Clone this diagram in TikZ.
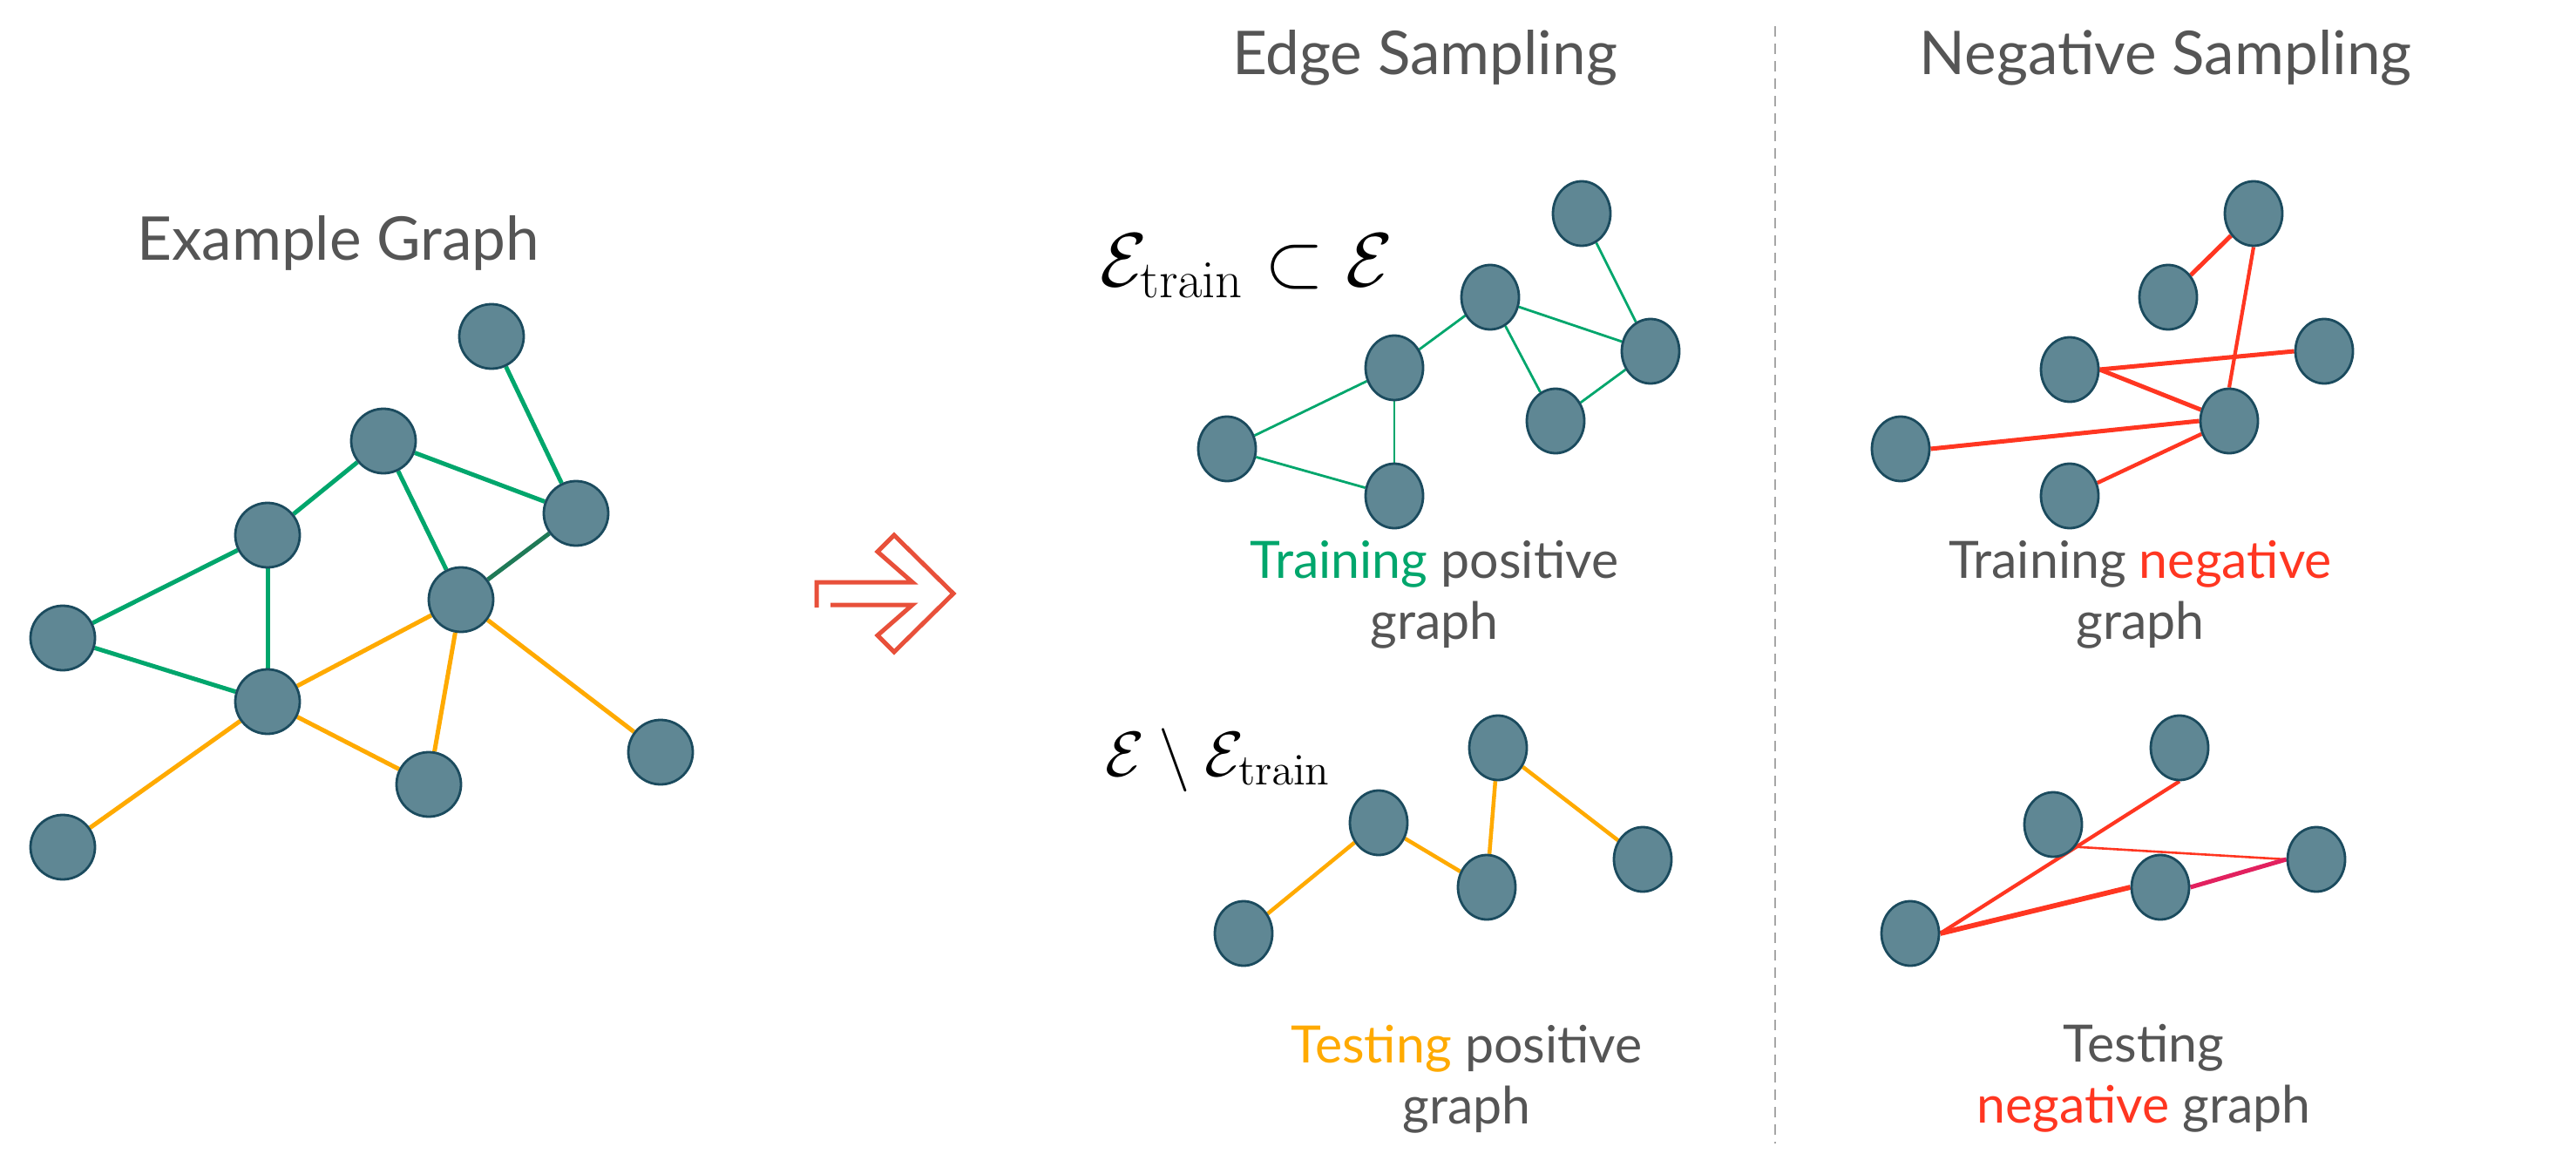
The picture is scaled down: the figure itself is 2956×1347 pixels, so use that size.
\documentclass[tikz,border=0pt]{standalone}
\usepackage[no-math]{fontspec}
\setmainfont{Lato}
\usetikzlibrary{shapes.geometric,backgrounds}
\definecolor{nodefill}{RGB}{95,135,148}
\definecolor{nodeborder}{RGB}{27,75,94}
\definecolor{tgreen}{RGB}{0,166,108}
\definecolor{dgreen}{RGB}{31,122,87}
\definecolor{torange}{RGB}{255,170,0}
\definecolor{tred}{RGB}{255,54,33}
\definecolor{tmagenta}{RGB}{226,33,95}
\definecolor{tgray}{RGB}{85,85,85}
\definecolor{arrowcol}{RGB}{232,80,58}
\definecolor{dashcol}{RGB}{166,166,166}
\begin{document}
\begin{tikzpicture}[x=0.1mm,y=-0.1mm,
  bignode/.style={circle, fill=nodefill, draw=nodeborder, line width=0.28mm, minimum size=7.4mm, inner sep=0pt},
  smallnode/.style={ellipse, fill=nodefill, draw=nodeborder, line width=0.28mm, minimum width=6.6mm, minimum height=7.4mm, inner sep=0pt},
  head/.style={text=tgray, font=\fontsize{19.7}{24}\selectfont},
  lbl/.style={text=tgray, align=center, font=\fontsize{16.8}{19.9}\selectfont},
  mathlbl/.style={inner sep=0pt},
  gedge/.style={tgreen, line width=0.5mm},
  oedge/.style={torange, line width=0.5mm},
  thinedge/.style={tgreen, line width=0.28mm},
  redge/.style={tred, line width=0.5mm}]
\useasboundingbox (0,0) rectangle (2956,1347);

% titles
\node[head] (t1) at (388,279) {Example Graph};
\node[head] (t2) at (1635,66) {Edge Sampling};
\node[head] (t3) at (2485,66) {Negative Sampling};

% example graph
\node[bignode] (gA) at (564,386) {};
\node[bignode] (gB) at (440,506) {};
\node[bignode] (gC) at (661,589) {};
\node[bignode] (gD) at (307,614) {};
\node[bignode] (gE) at (529,688) {};
\node[bignode] (gF) at (72,732) {};
\node[bignode] (gG) at (307,805) {};
\node[bignode] (gH) at (492,900) {};
\node[bignode] (gI) at (758,863) {};
\node[bignode] (gJ) at (72,972) {};

% arrow
\draw[arrowcol, line width=0.5mm, line join=miter]
  (937,697) -- (937,668) -- (1047,668) -- (1007,633) -- (1026,614) -- (1094,681)
  -- (1026,748) -- (1007,729) -- (1047,694) -- (953,694);

% dashed separator
\coordinate (sepTop) at (2037,30);
\coordinate (sepBot) at (2037,1312);
\draw[dashcol, line width=0.25mm, dash pattern=on 1.2mm off 0.8mm] (sepTop) -- (sepBot);

% training positive graph
\node[smallnode] (tA) at (1815,245) {};
\node[smallnode] (tB) at (1710,341) {};
\node[smallnode] (tD) at (1600,422) {};
\node[smallnode] (tC) at (1894,403) {};
\node[smallnode] (tE) at (1785,483) {};
\node[smallnode] (tF) at (1408,515) {};
\node[smallnode] (tG) at (1600,569) {};

% testing positive graph
\node[smallnode] (pE) at (1719,858) {};
\node[smallnode] (pG) at (1582,944) {};
\node[smallnode] (pH) at (1706,1018) {};
\node[smallnode] (pI) at (1885,986) {};
\node[smallnode] (pJ) at (1427,1071) {};

% training negative graph
\node[smallnode] (n1) at (2586,245) {};
\node[smallnode] (n2) at (2488,341) {};
\node[smallnode] (n3) at (2375,424) {};
\node[smallnode] (n4) at (2667,403) {};
\node[smallnode] (n5) at (2558,483) {};
\node[smallnode] (n6) at (2181,515) {};
\node[smallnode] (n7) at (2375,569) {};

% testing negative graph
\node[smallnode] (q1) at (2501,858) {};
\node[smallnode] (q2) at (2356,946) {};
\node[smallnode] (q3) at (2658,986) {};
\node[smallnode] (q4) at (2479,1018) {};
\node[smallnode] (q5) at (2192,1071) {};

\begin{scope}[on background layer]
  \draw[gedge] (gA) -- (gC);
  \draw[gedge] (gB) -- (gC);
  \draw[gedge] (gB) -- (gD);
  \draw[gedge] (gB) -- (gE);
  \draw[gedge] (gD) -- (gF);
  \draw[gedge] (gD) -- (gG);
  \draw[gedge] (gF) -- (gG);
  \draw[dgreen, line width=0.5mm] (gE) -- (gC);
  \draw[oedge] (gG) -- (gE);
  \draw[oedge] (gG) -- (gH);
  \draw[oedge] (gG) -- (gJ);
  \draw[oedge] (gE) -- (gH);
  \draw[oedge] (gE) -- (gI);

  \draw[thinedge] (tA) -- (tC);
  \draw[thinedge] (tB) -- (tC);
  \draw[thinedge] (tB) -- (tD);
  \draw[thinedge] (tB) -- (tE);
  \draw[thinedge] (tE) -- (tC);
  \draw[thinedge] (tD) -- (tF);
  \draw[thinedge] (tD) -- (tG);
  \draw[thinedge] (tF) -- (tG);

  \draw[torange, line width=0.45mm] (pE) -- (pH);
  \draw[torange, line width=0.45mm] (pE) -- (pI);
  \draw[torange, line width=0.45mm] (pG) -- (pH);
  \draw[torange, line width=0.45mm] (pG) -- (pJ);

  \draw[redge] (n1) -- (n2);
  \draw[tred, line width=0.42mm] (n1.south) -- (n5.north);
  \draw[redge] (n3.east) -- (n4.west);
  \draw[redge] (n3.east) -- (n5);
  \draw[redge] (n6.east) -- (n5.west);
  \draw[tred, line width=0.44mm] (n7) -- (n5);

  \draw[tred, line width=0.42mm] (q1.south) -- (q5.east);
  \draw[tred, line width=0.26mm] (q2.-45) -- (q3.west);
  \draw[tred, line width=0.58mm] (q5.east) -- (q4.west);
  \draw[tmagenta, line width=0.5mm] (q4.east) -- (q3.west);
\end{scope}

% math labels
\node[mathlbl, anchor=base west, font=\fontsize{23}{27}\selectfont] (m1) at (1262,328) {$\mathcal{E}_{\mathrm{train}} \subset \mathcal{E}$};
\node[mathlbl, anchor=base west, font=\fontsize{20.5}{24}\selectfont] (m2) at (1268,890) {$\mathcal{E} \setminus \mathcal{E}_{\mathrm{train}}$};

% captions
\node[lbl] (c1) at (1646,682) {\textcolor{tgreen}{Training} positive\\graph};
\node[lbl] (c2) at (1683,1238) {\textcolor{torange}{Testing} positive\\graph};
\node[lbl] (c3) at (2456,682) {Training \textcolor{tred}{negative}\\graph};
\node[lbl] (c4) at (2460,1237) {Testing\\\textcolor{tred}{negative} graph};
\end{tikzpicture}
\end{document}
